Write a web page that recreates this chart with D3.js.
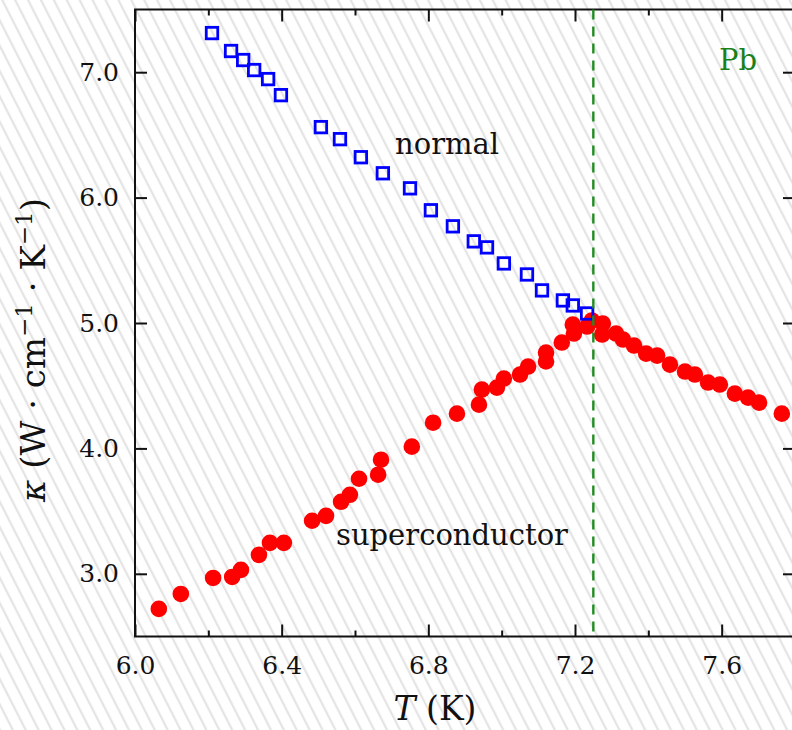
<!DOCTYPE html>
<html>
<head>
<meta charset="utf-8">
<script src="https://cdn.jsdelivr.net/npm/d3@7"></script>
<style>
  body { margin: 0; background: #fff; }
  svg { display: block; }
  .axis text { font-family: "DejaVu Serif", serif; font-size: 25px; fill: #111; }
  .axis line { stroke: #111; stroke-width: 2; }
  .axis path { display: none; }
</style>
</head>
<body>
<div id="chart"></div>
<script>
// normal state (open squares)
var normalT = [6.210, 6.262, 6.295, 6.325, 6.363, 6.398, 6.507, 6.559, 6.616, 6.676, 6.750,
               6.807, 6.867, 6.924, 6.960, 7.006, 7.069, 7.110, 7.167, 7.194, 7.233];
var normalK = [7.312, 7.169, 7.097, 7.017, 6.945, 6.817, 6.562, 6.466, 6.322, 6.194, 6.074,
               5.899, 5.771, 5.651, 5.603, 5.475, 5.387, 5.260, 5.180, 5.140, 5.076];

// superconducting state (filled circles)
var superT = [6.065, 6.125, 6.213, 6.265, 6.289, 6.338, 6.368, 6.406, 6.483, 6.521, 6.562,
              6.586, 6.611, 6.663, 6.671, 6.755, 6.813, 6.878, 6.938, 6.946, 6.987, 7.006,
              7.050, 7.072, 7.121, 7.121, 7.164, 7.197, 7.194, 7.233, 7.246, 7.274, 7.276,
              7.312, 7.331, 7.361, 7.394, 7.424, 7.459, 7.500, 7.527, 7.563, 7.595, 7.636,
              7.672, 7.702, 7.764];
var superK = [2.720, 2.839, 2.967, 2.975, 3.031, 3.151, 3.247, 3.247, 3.423, 3.462, 3.574,
              3.630, 3.758, 3.790, 3.910, 4.014, 4.205, 4.277, 4.349, 4.469, 4.485, 4.557,
              4.589, 4.653, 4.693, 4.764, 4.844, 4.916, 4.988, 4.972, 5.020, 4.908, 4.996,
              4.916, 4.868, 4.820, 4.756, 4.740, 4.668, 4.613, 4.589, 4.525, 4.509, 4.437,
              4.405, 4.365, 4.277];

var Tc = 7.25;
var xMajor = [6.0, 6.4, 6.8, 7.2, 7.6];
var xMinor = [6.2, 6.6, 7.0, 7.4];
var yMajor = [3.0, 4.0, 5.0, 6.0, 7.0];

var W = 792, H = 730;
var pLeft = 135, pRight = 795, pTop = 9.5, pBottom = 636.5;

var svg = d3.select("#chart").append("svg")
    .attr("width", W)
    .attr("height", H);

// hatched background
var defs = svg.append("defs");
var pat = defs.append("pattern")
    .attr("id", "hatch")
    .attr("patternUnits", "userSpaceOnUse")
    .attr("width", 11.5)
    .attr("height", 20)
    .attr("patternTransform", "rotate(-27)");
pat.append("rect").attr("width", 11.5).attr("height", 20).attr("fill", "#fff");
pat.append("line")
    .attr("x1", 2).attr("y1", 0).attr("x2", 2).attr("y2", 20)
    .attr("stroke", "#e4e4e4")
    .attr("stroke-width", 2.2);

svg.append("rect")
    .attr("width", W).attr("height", H)
    .attr("fill", "url(#hatch)");

var x = d3.scaleLinear().domain([6.0, 7.8]).range([pLeft, pRight]);
var y = d3.scaleLinear().domain([2.5, 7.5]).range([pBottom, pTop]);

// axes (ticks pointing inward)
svg.append("g").attr("class", "axis")
    .attr("transform", "translate(0," + pBottom + ")")
    .call(d3.axisBottom(x).tickValues(xMajor).tickSize(-12).tickPadding(20).tickFormat(d3.format(".1f")));
svg.append("g").attr("class", "axis")
    .attr("transform", "translate(0," + pBottom + ")")
    .call(d3.axisBottom(x).tickValues(xMinor).tickSize(-6).tickFormat(""));
svg.append("g").attr("class", "axis")
    .attr("transform", "translate(0," + pTop + ")")
    .call(d3.axisTop(x).tickValues(xMajor).tickSize(-12).tickFormat(""));
svg.append("g").attr("class", "axis")
    .attr("transform", "translate(0," + pTop + ")")
    .call(d3.axisTop(x).tickValues(xMinor).tickSize(-6).tickFormat(""));
svg.append("g").attr("class", "axis")
    .attr("transform", "translate(" + pLeft + ",0)")
    .call(d3.axisLeft(y).tickValues(yMajor).tickSize(-12).tickPadding(16).tickFormat(d3.format(".1f")));
svg.append("g").attr("class", "axis")
    .attr("transform", "translate(" + pRight + ",0)")
    .call(d3.axisRight(y).tickValues(yMajor).tickSize(-12).tickFormat(""));

// frame
svg.append("rect")
    .attr("x", pLeft).attr("y", pTop)
    .attr("width", pRight - pLeft).attr("height", pBottom - pTop)
    .attr("fill", "none")
    .attr("stroke", "#111")
    .attr("stroke-width", 2);

// superconducting points
svg.append("g").selectAll("circle")
    .data(superT)
    .join("circle")
    .attr("cx", function (d) { return x(d); })
    .attr("cy", function (d, i) { return y(superK[i]); })
    .attr("r", 8.3)
    .attr("fill", "#ff0000");

// normal points
var s = 11.5;
svg.append("g").selectAll("rect")
    .data(normalT)
    .join("rect")
    .attr("x", function (d) { return x(d) - s / 2; })
    .attr("y", function (d, i) { return y(normalK[i]) - s / 2; })
    .attr("width", s)
    .attr("height", s)
    .attr("fill", "none")
    .attr("stroke", "#0000ff")
    .attr("stroke-width", 2.8);

// Tc line
svg.append("line")
    .attr("x1", x(Tc)).attr("x2", x(Tc))
    .attr("y1", pTop).attr("y2", pBottom)
    .attr("stroke", "#228b22")
    .attr("stroke-width", 2.4)
    .attr("stroke-dasharray", "10,7");

// labels
var font = "DejaVu Serif, serif";
svg.append("text")
    .attr("x", 395).attr("y", 154)
    .style("font-family", font).style("font-size", "29px").attr("fill", "#111")
    .text("normal");
svg.append("text")
    .attr("x", 336).attr("y", 545)
    .style("font-family", font).style("font-size", "29px").attr("fill", "#111")
    .text("superconductor");
svg.append("text")
    .attr("x", 719).attr("y", 70)
    .style("font-family", font).style("font-size", "29px").attr("fill", "#1a801a")
    .text("Pb");

// x title
var xt = svg.append("text")
    .attr("x", 435).attr("y", 720)
    .attr("text-anchor", "middle")
    .style("font-family", font).style("font-size", "33px").attr("fill", "#111");
xt.append("tspan").style("font-style", "italic").text("T");
xt.append("tspan").text(" (K)");

// y title
var yt = svg.append("text")
    .attr("transform", "translate(45,350) rotate(-90)")
    .attr("text-anchor", "middle")
    .style("font-family", font).style("font-size", "34px").attr("fill", "#111");
yt.append("tspan").style("font-style", "italic").text("κ");
yt.append("tspan").text(" (W · cm");
yt.append("tspan").attr("dy", -13).style("font-size", "23px").text("−1");
yt.append("tspan").attr("dy", 13).text(" · K");
yt.append("tspan").attr("dy", -13).style("font-size", "23px").text("−1");
yt.append("tspan").attr("dy", 13).text(")");
</script>
</body>
</html>
